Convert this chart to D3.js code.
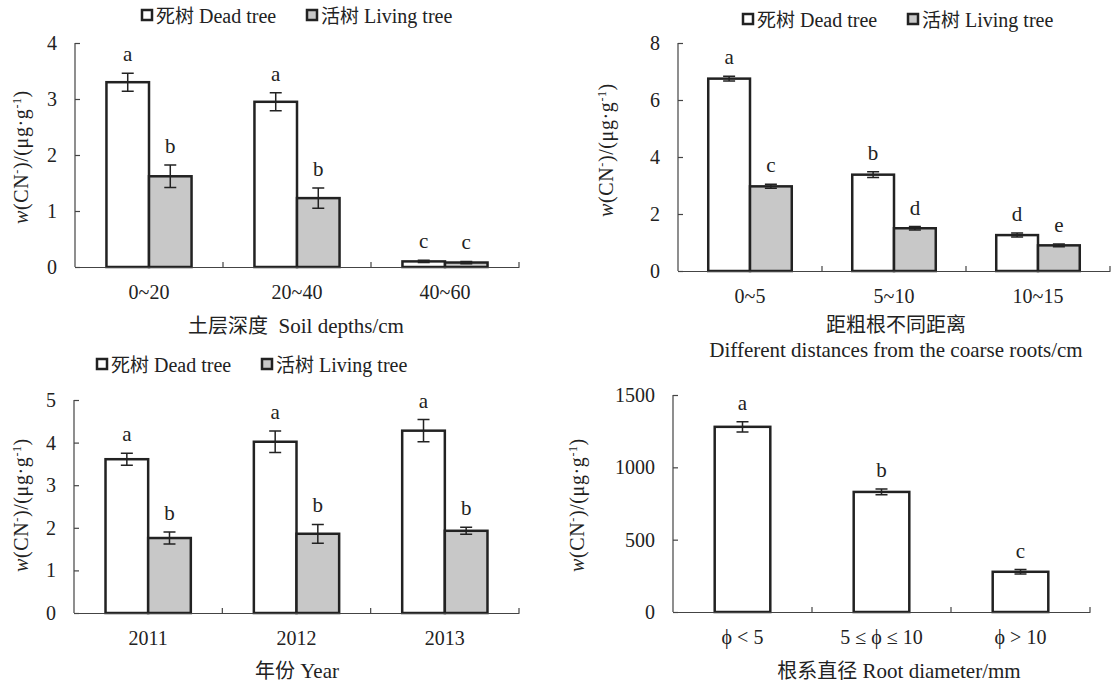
<!DOCTYPE html>
<html>
<head>
<meta charset="utf-8">
<script src="https://cdn.jsdelivr.net/npm/d3@7"></script>
<style>
  body { margin: 0; background: #fff; }
  svg text { font-family: "Liberation Serif", "Times New Roman", serif; fill: #222; }
  svg .cjk { font-family: "Noto Sans CJK SC", sans-serif; }
</style>
</head>
<body>
<svg id="chart" width="1119" height="685"></svg>
<script>
// Soil depth panel
var soilCats = ["0~20", "20~40", "40~60"];
var soilDead = [3.30, 2.95, 0.10],
    soilDeadErr = [0.16, 0.16, 0.02],
    soilDeadSig = ["a", "a", "c"];
var soilLive = [1.62, 1.23, 0.08],
    soilLiveErr = [0.20, 0.18, 0.02],
    soilLiveSig = ["b", "b", "c"];
var soilTicks = [0, 1, 2, 3, 4];

// Distance from coarse roots panel
var distCats = ["0~5", "5~10", "10~15"];
var distDead = [6.75, 3.38, 1.26],
    distDeadErr = [0.08, 0.10, 0.07],
    distDeadSig = ["a", "b", "d"];
var distLive = [2.97, 1.50, 0.90],
    distLiveErr = [0.07, 0.06, 0.05],
    distLiveSig = ["c", "d", "e"];
var distTicks = [0, 2, 4, 6, 8];

// Year panel
var yearCats = ["2011", "2012", "2013"];
var yearDead = [3.61, 4.02, 4.28],
    yearDeadErr = [0.14, 0.25, 0.26],
    yearDeadSig = ["a", "a", "a"];
var yearLive = [1.76, 1.86, 1.93],
    yearLiveErr = [0.14, 0.22, 0.08],
    yearLiveSig = ["b", "b", "b"];
var yearTicks = [0, 1, 2, 3, 4, 5];

// Root diameter panel
var rootCats = ["\u03D5 < 5", "5 \u2264 \u03D5 \u2264 10", "\u03D5 > 10"];
var rootVals = [1280, 830, 278],
    rootErr = [35, 20, 15],
    rootSig = ["a", "b", "c"];
var rootTicks = [0, 500, 1000, 1500];

var svg = d3.select("#chart");
var ink = "#222", axisInk = "#444", liveFill = "#c8c8c8";

function yTitle(x, y) {
  var t = svg.append("text")
      .attr("transform", "translate(" + x + "," + y + ") rotate(-90)")
      .attr("text-anchor", "middle")
      .style("font-size", "20px")
      .style("letter-spacing", "0.6px");
  t.append("tspan").style("font-style", "italic").text("w");
  t.append("tspan").text("(CN");
  t.append("tspan").attr("dy", -7).style("font-size", "12px").text("-");
  t.append("tspan").attr("dy", 7).text(")/(\u03BCg\u00B7g");
  t.append("tspan").attr("dy", -7).style("font-size", "12px").text("-1");
  t.append("tspan").attr("dy", 7).text(")");
}

function legend(x, y) {
  var items = [["死树", " Dead tree", "#fff"], ["活树", " Living tree", liveFill]];
  var g = svg.append("g").attr("transform", "translate(" + x + "," + y + ")");
  items.forEach(function(d, i) {
    var gx = i * 165;
    g.append("rect")
        .attr("x", gx + 1).attr("y", -13)
        .attr("width", 10).attr("height", 10)
        .attr("fill", d[2]).attr("stroke", ink).attr("stroke-width", 2.5);
    var t = g.append("text").attr("x", gx + 15).attr("y", 0).style("font-size", "20px");
    t.append("tspan").attr("class", "cjk").style("font-size", "19px").text(d[0]);
    t.append("tspan").text(d[1]);
  });
}

function panel(o) {
  var x = d3.scaleBand().domain(o.cats).range([o.x0, o.x1]);
  var y = d3.scaleLinear().domain([0, o.ymax]).range([o.y0, o.yTop]);
  var bw = x.bandwidth();
  var inner = d3.scaleBand()
      .domain(d3.range(o.series.length))
      .range([bw * (0.5 - o.groupFrac / 2), bw * (0.5 + o.groupFrac / 2)]);

  var g = svg.append("g");

  // y axis, ticks pointing inward
  var ya = g.append("g")
      .attr("transform", "translate(" + o.x0 + ",0)")
      .call(d3.axisLeft(y).tickValues(o.ticks).tickSize(-5).tickPadding(18).tickFormat(d3.format("d")));
  ya.attr("font-family", null).attr("font-size", null);
  ya.selectAll("path, line").attr("stroke", axisInk).attr("stroke-width", 1.2);
  ya.select(".domain").attr("d", "M0," + o.y0 + "V" + o.yTop);
  ya.selectAll("text").style("font-size", "20px");

  // bars
  o.series.forEach(function(s, si) {
    o.cats.forEach(function(c, ci) {
      var bx = x(c) + inner(si), w = inner.bandwidth();
      var v = s.vals[ci], e = s.err[ci];
      g.append("rect")
          .attr("x", bx).attr("y", y(v))
          .attr("width", w).attr("height", y(0) - y(v))
          .attr("fill", s.fill).attr("stroke", ink).attr("stroke-width", 2.5);
      var cx = bx + w / 2;
      g.append("path")
          .attr("d", "M" + cx + "," + y(v - e) + "V" + y(v + e) +
                     "M" + (cx - 6) + "," + y(v - e) + "H" + (cx + 6) +
                     "M" + (cx - 6) + "," + y(v + e) + "H" + (cx + 6))
          .attr("stroke", ink).attr("stroke-width", 1.5).attr("fill", "none");
      g.append("text")
          .attr("x", cx).attr("y", y(v + e) - 12)
          .attr("text-anchor", "middle")
          .style("font-size", "21px")
          .text(s.sig[ci]);
    });
  });

  // x axis with ticks at category boundaries
  var xa = g.append("g")
      .attr("transform", "translate(0," + o.y0 + ")")
      .call(d3.axisBottom(x).tickSize(0).tickPadding(18));
  xa.attr("font-family", null).attr("font-size", null);
  xa.select(".domain").attr("stroke", axisInk).attr("stroke-width", 1.2);
  xa.selectAll("text").style("font-size", "20px");
  o.cats.forEach(function(c) {
    var bx = x(c) + bw;
    g.append("line")
        .attr("x1", bx).attr("x2", bx)
        .attr("y1", o.y0).attr("y2", o.y0 - 5)
        .attr("stroke", axisInk).attr("stroke-width", 1.2);
  });

  // x titles
  o.titles.forEach(function(t) {
    var tt = svg.append("text")
        .attr("x", t.x).attr("y", t.y)
        .attr("text-anchor", "middle")
        .style("font-size", "21px");
    t.parts.forEach(function(p) {
      tt.append("tspan").attr("class", p[1] ? "cjk" : null)
          .style("font-size", p[1] ? "20px" : null)
          .text(p[0]);
    });
  });
}

panel({
  cats: soilCats, ymax: 4, ticks: soilTicks,
  x0: 75, x1: 519, y0: 267, yTop: 43, groupFrac: 0.575,
  series: [
    { vals: soilDead, err: soilDeadErr, sig: soilDeadSig, fill: "#fff" },
    { vals: soilLive, err: soilLiveErr, sig: soilLiveSig, fill: liveFill }
  ],
  titles: [{ x: 296, y: 333, parts: [["土层深度", true], ["\u00A0\u00A0Soil depths/cm", false]] }]
});
legend(141, 23);
yTitle(28, 157);

panel({
  cats: distCats, ymax: 8, ticks: distTicks,
  x0: 678, x1: 1110, y0: 271, yTop: 43, groupFrac: 0.58,
  series: [
    { vals: distDead, err: distDeadErr, sig: distDeadSig, fill: "#fff" },
    { vals: distLive, err: distLiveErr, sig: distLiveSig, fill: liveFill }
  ],
  titles: [
    { x: 896, y: 332, parts: [["距粗根不同距离", true]] },
    { x: 896, y: 357, parts: [["Different distances from the coarse roots/cm", false]] }
  ]
});
legend(742, 27);
yTitle(613, 150);

panel({
  cats: yearCats, ymax: 5, ticks: yearTicks,
  x0: 74, x1: 519, y0: 613, yTop: 400, groupFrac: 0.575,
  series: [
    { vals: yearDead, err: yearDeadErr, sig: yearDeadSig, fill: "#fff" },
    { vals: yearLive, err: yearLiveErr, sig: yearLiveSig, fill: liveFill }
  ],
  titles: [{ x: 297, y: 678, parts: [["年份", true], [" Year", false]] }]
});
legend(96, 372);
yTitle(28, 505);

panel({
  cats: rootCats, ymax: 1500, ticks: rootTicks,
  x0: 673, x1: 1090, y0: 612, yTop: 395, groupFrac: 0.4,
  series: [
    { vals: rootVals, err: rootErr, sig: rootSig, fill: "#fff" }
  ],
  titles: [{ x: 899, y: 678, parts: [["根系直径", true], [" Root diameter/mm", false]] }]
});
yTitle(584, 505);
</script>
</body>
</html>
